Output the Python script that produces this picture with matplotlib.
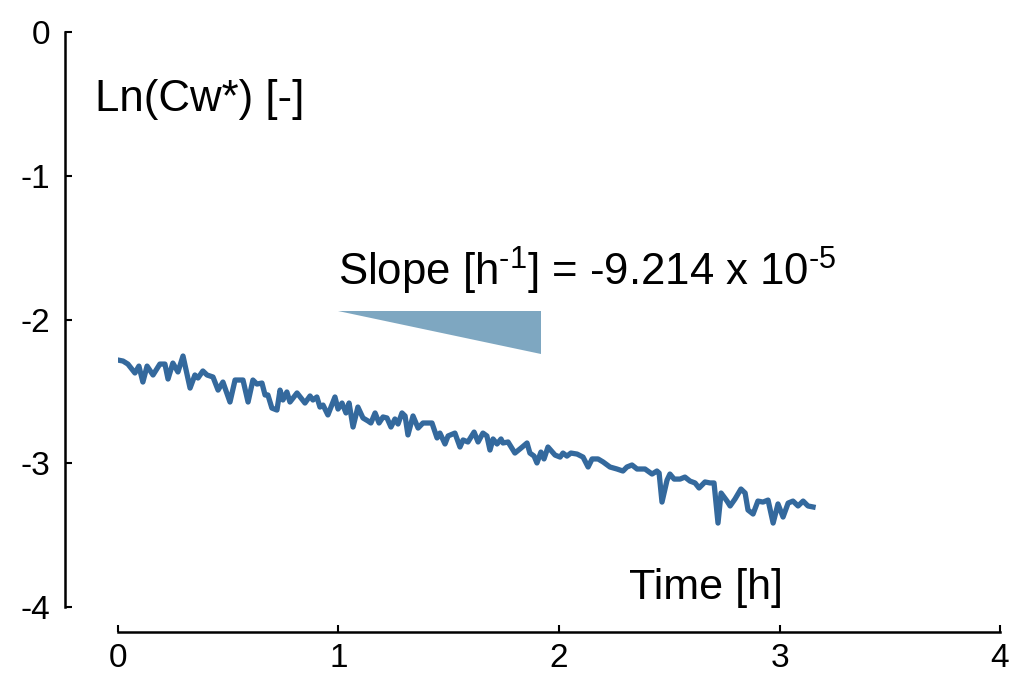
import matplotlib
matplotlib.use("Agg")
import matplotlib.pyplot as plt
import numpy as np

plt.rcParams['font.family'] = ['Liberation Sans', 'DejaVu Sans']
plt.rcParams['axes.unicode_minus'] = False
plt.rcParams['mathtext.fontset'] = 'custom'
plt.rcParams['mathtext.rm'] = 'Liberation Sans'

# time [h] and Ln(Cw*)
time_h = [0.0, 0.023, 0.045, 0.077, 0.095, 0.113, 0.132, 0.159, 0.190, 0.213,
          0.227, 0.249, 0.272, 0.295, 0.327, 0.349, 0.363, 0.385, 0.404, 0.431,
          0.454, 0.476, 0.508, 0.531, 0.567, 0.590, 0.612, 0.630, 0.653, 0.667,
          0.680, 0.698, 0.721, 0.735, 0.748, 0.766, 0.780, 0.812, 0.848, 0.871,
          0.884, 0.902, 0.916, 0.930, 0.952, 0.984, 0.998, 1.016, 1.034, 1.048,
          1.066, 1.088, 1.111, 1.134, 1.147, 1.166, 1.184, 1.202, 1.220, 1.238,
          1.256, 1.270, 1.288, 1.302, 1.315, 1.338, 1.361, 1.383, 1.424, 1.447,
          1.460, 1.483, 1.497, 1.528, 1.551, 1.565, 1.587, 1.615, 1.633, 1.655,
          1.673, 1.687, 1.701, 1.719, 1.737, 1.746, 1.769, 1.800, 1.828, 1.855,
          1.868, 1.887, 1.900, 1.918, 1.932, 1.950, 1.982, 2.005, 2.018, 2.036,
          2.054, 2.082, 2.109, 2.132, 2.150, 2.177, 2.200, 2.231, 2.263, 2.290,
          2.308, 2.331, 2.354, 2.390, 2.422, 2.444, 2.454, 2.467, 2.490, 2.503,
          2.522, 2.549, 2.571, 2.594, 2.617, 2.635, 2.662, 2.685, 2.703, 2.721,
          2.735, 2.762, 2.776, 2.798, 2.825, 2.844, 2.857, 2.880, 2.902, 2.925,
          2.948, 2.971, 2.993, 3.016, 3.039, 3.061, 3.084, 3.107, 3.129, 3.152]
ln_cw = [-2.282, -2.289, -2.310, -2.372, -2.324, -2.435, -2.324, -2.386, -2.310, -2.310,
         -2.414, -2.303, -2.365, -2.254, -2.477, -2.386, -2.407, -2.358, -2.386, -2.400,
         -2.491, -2.435, -2.574, -2.421, -2.421, -2.574, -2.421, -2.449, -2.442, -2.525,
         -2.525, -2.616, -2.630, -2.491, -2.560, -2.504, -2.574, -2.511, -2.581, -2.532,
         -2.560, -2.539, -2.609, -2.595, -2.664, -2.539, -2.623, -2.581, -2.650, -2.581,
         -2.748, -2.609, -2.685, -2.706, -2.720, -2.650, -2.720, -2.678, -2.685, -2.748,
         -2.692, -2.727, -2.650, -2.671, -2.803, -2.671, -2.755, -2.720, -2.720, -2.824,
         -2.790, -2.866, -2.810, -2.790, -2.887, -2.838, -2.852, -2.783, -2.852, -2.790,
         -2.810, -2.908, -2.831, -2.866, -2.831, -2.859, -2.852, -2.929, -2.894, -2.859,
         -2.929, -2.950, -2.998, -2.922, -2.970, -2.887, -2.943, -2.957, -2.929, -2.950,
         -2.929, -2.936, -2.957, -3.026, -2.970, -2.970, -2.991, -3.026, -3.040, -3.054,
         -3.026, -3.012, -3.040, -3.040, -3.075, -3.054, -3.068, -3.270, -3.117, -3.075,
         -3.110, -3.110, -3.096, -3.124, -3.137, -3.172, -3.130, -3.137, -3.137, -3.416,
         -3.207, -3.263, -3.297, -3.249, -3.179, -3.207, -3.325, -3.353, -3.263, -3.270,
         -3.256, -3.416, -3.283, -3.374, -3.277, -3.263, -3.297, -3.263, -3.297, -3.304]

# slope triangle corners (time, ln)
tri_t = [1.0, 1.918, 1.918]
tri_y = [-1.941, -1.941, -2.240]

x_ticks = [0, 1, 2, 3, 4]
y_ticks = [0, -1, -2, -3, -4]

fig = plt.figure(figsize=(10.16, 6.79), dpi=100)
ax = fig.add_axes([0.1161, 0.1060, 0.8682, 0.8469])

ax.plot(time_h, ln_cw, color='#34699d', lw=3.8, solid_joinstyle='round')
ax.fill(tri_t, tri_y, color='#7ea7c1', lw=0)

ax.set_xlim(0, 4)
ax.set_ylim(-4, 0)
ax.set_xticks(x_ticks)
ax.set_yticks(y_ticks)
ax.set_xticklabels([str(v) for v in x_ticks])
ax.set_yticklabels([str(v) for v in y_ticks])

for s in ['top', 'right']:
    ax.spines[s].set_visible(False)
ax.spines['left'].set_position(('outward', 38))
ax.spines['bottom'].set_position(('outward', 18))
ax.spines['left'].set_linewidth(1.8)
ax.spines['bottom'].set_linewidth(1.8)
ax.tick_params(axis='y', direction='in', length=5, width=1.5, labelsize=24, pad=11)
ax.tick_params(axis='x', direction='in', length=5, width=1.5, labelsize=24, pad=8)

ax.text(-0.104, -0.47, 'Ln(Cw*) [-]', fontsize=31.5, va='center', ha='left')
ax.text(2.667, -3.87, 'Time [h]', fontsize=31, va='center', ha='center')
ax.text(1.0, -1.66, 'Slope [h$^{\\text{-1}}$] = -9.214 x 10$^{\\text{-5}}$',
        fontsize=31.5, va='center', ha='left')

fig.savefig('out.png', dpi=100)
